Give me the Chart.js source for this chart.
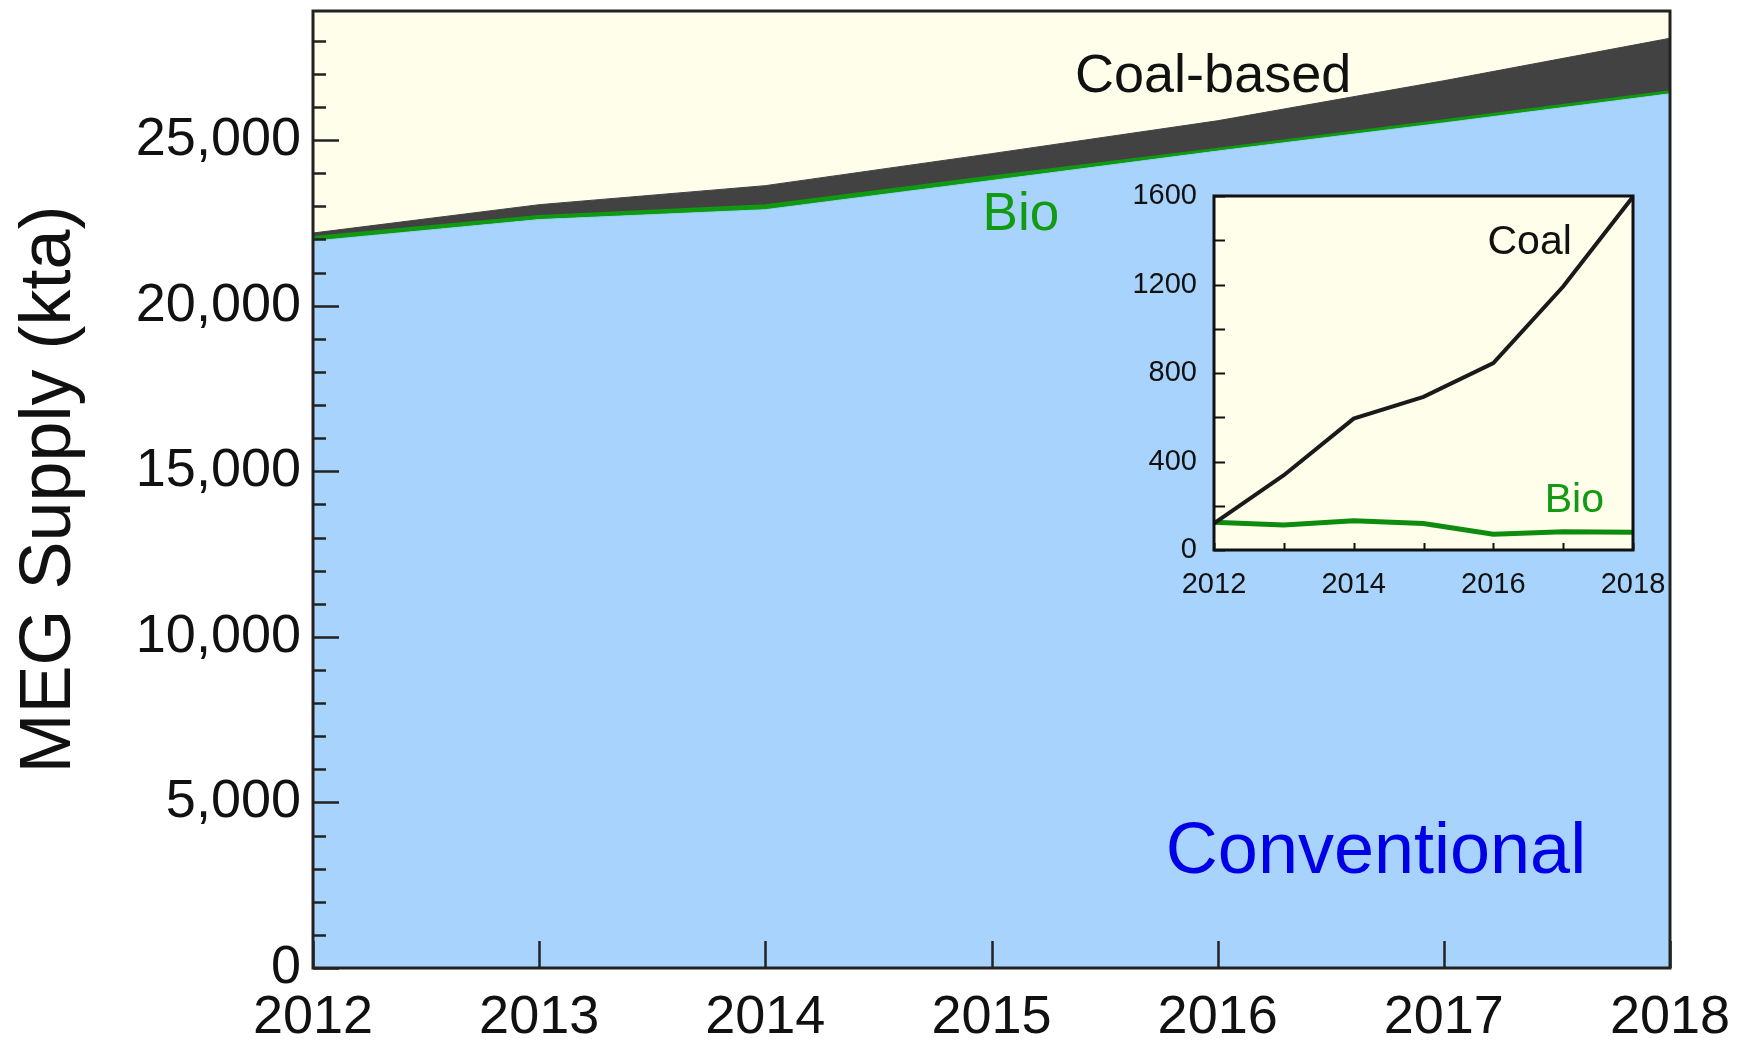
<!DOCTYPE html>
<html><head><meta charset="utf-8">
<script src="https://cdn.jsdelivr.net/npm/chart.js@4.4.1/dist/chart.umd.min.js"></script>
<style>
html,body{margin:0;padding:0;background:#fff;}
#wrap{position:relative;width:1749px;height:1044px;overflow:hidden;}
#main{position:absolute;left:0;top:0;}
#inset{position:absolute;left:1100px;top:170px;}
</style></head><body>
<div id="wrap"><canvas id="main" width="1749" height="1044"></canvas><canvas id="inset" width="600" height="450"></canvas></div>
<script>
// ---- data ----
const years = ['2012', '2013', '2014', '2015', '2016', '2017', '2018'];
const conventional = [21950, 22600, 22900, 23780, 24670, 25520, 26400];
const bio = [125, 113, 132, 120, 71, 83, 80];
const coal = [120, 338, 594, 692, 845, 1191, 1597];
const mainYTicks = [0, 5000, 10000, 15000, 20000, 25000];
const mainYMinor = [1000, 2000, 3000, 4000, 6000, 7000, 8000, 9000, 11000, 12000, 13000, 14000, 16000, 17000, 18000, 19000, 21000, 22000, 23000, 24000, 26000, 27000, 28000];
const insetYTicks = [0, 400, 800, 1200, 1600];
const insetYMinor = [200, 600, 1000, 1400];
const insetXLabels = ['2012', '', '2014', '', '2016', '', '2018'];

const FONT = '"Liberation Sans", Arial, sans-serif';
const firstYear = Number(years[0]);

const frameTicks = {
  id: 'frameTicks',
  beforeDraw(chart, args, o) {
    const a = chart.chartArea, c = chart.ctx;
    c.save(); c.fillStyle = o.bg; c.fillRect(a.left, a.top, a.right - a.left, a.bottom - a.top); c.restore();
  },
  afterDatasetsDraw(chart, args, o) {
    const a = chart.chartArea, c = chart.ctx, ys = chart.scales.y, xs = chart.scales.x;
    c.save();
    c.strokeStyle = o.tickColor; c.lineWidth = o.tickWidth; c.lineCap = 'butt';
    const hline = (v, len) => { const p = Math.round(ys.getPixelForValue(v)) + 0.5; c.beginPath(); c.moveTo(a.left, p); c.lineTo(a.left + len, p); c.stroke(); };
    o.yMajor.forEach(v => hline(v, o.yMajorLen));
    o.yMinor.forEach(v => hline(v, o.yMinorLen));
    years.forEach((y, i) => { const p = Math.round(xs.getPixelForValue(i)) + 0.5; c.beginPath(); c.moveTo(p, a.bottom); c.lineTo(p, a.bottom - o.xLen); c.stroke(); });
    c.strokeStyle = o.frameColor; c.lineWidth = o.frameWidth;
    c.strokeRect(a.left, a.top, a.right - a.left, a.bottom - a.top);
    o.labels.forEach(l => {
      c.font = l.font; c.fillStyle = l.color; c.textAlign = 'center'; c.textBaseline = 'middle';
      c.fillText(l.text, xs.getPixelForValue(l.year - firstYear), ys.getPixelForValue(l.value));
    });
    c.restore();
  }
};

function noPadX(h) { return s => { s.height = h; s.paddingLeft = 0; s.paddingRight = 0; }; }
function noPadY(w) { return s => { s.width = w; s.paddingTop = 0; s.paddingBottom = 0; }; }

new Chart(document.getElementById('main'), {
  type: 'line',
  data: {
    labels: years,
    datasets: [
      { label: 'Conventional', data: conventional, fill: 'origin', backgroundColor: '#a8d3fc', borderColor: '#8fd0f0', borderWidth: 1, pointRadius: 0, tension: 0 },
      { label: 'Bio', data: bio, fill: '-1', backgroundColor: '#119a11', borderColor: '#119a11', borderWidth: 2, pointRadius: 0, tension: 0 },
      { label: 'Coal-based', data: coal, fill: '-1', backgroundColor: '#424242', borderColor: '#424242', borderWidth: 1, pointRadius: 0, tension: 0 }
    ]
  },
  options: {
    responsive: false, animation: false, devicePixelRatio: 1,
    layout: { padding: { left: 0, right: 79, top: 11, bottom: 0 } },
    plugins: {
      legend: { display: false }, tooltip: { enabled: false },
      frameTicks: {
        bg: '#fefeea', tickColor: '#222', tickWidth: 2.5, frameColor: '#222', frameWidth: 3,
        yMajor: mainYTicks, yMinor: mainYMinor, yMajorLen: 26, yMinorLen: 13, xLen: 27,
        labels: [
          { text: 'Coal-based', year: 2015.98, value: 26900, color: '#111', font: '54px ' + FONT },
          { text: 'Bio', year: 2015.13, value: 22730, color: '#129a12', font: '53px ' + FONT },
          { text: 'Conventional', year: 2016.70, value: 3480, color: '#0000e6', font: '72px ' + FONT }
        ]
      }
    },
    scales: {
      x: {
        type: 'category', offset: false,
        grid: { display: false, drawTicks: false }, border: { display: false },
        ticks: { color: '#111', font: { family: FONT, size: 54 }, padding: 18, maxRotation: 0, autoSkip: false },
        afterFit: noPadX(76)
      },
      y: {
        stacked: true, min: 0, max: 28900,
        grid: { display: false, drawTicks: false }, border: { display: false },
        afterBuildTicks(s) { s.ticks = mainYTicks.map(v => ({ value: v })); },
        ticks: { color: '#111', font: { family: FONT, size: 54 }, padding: 12,
          callback: v => v.toLocaleString('en-US') },
        title: { display: true, text: 'MEG Supply (kta)', color: '#111', font: { family: FONT, size: 72 }, padding: { top: 7, bottom: 0 } },
        afterFit: noPadY(313)
      }
    }
  },
  plugins: [frameTicks]
});

new Chart(document.getElementById('inset'), {
  type: 'line',
  data: {
    labels: years,
    datasets: [
      { label: 'Coal', data: coal, borderColor: '#1a1a1a', borderWidth: 4, pointRadius: 0, tension: 0, fill: false },
      { label: 'Bio', data: bio, borderColor: '#0e8c0e', borderWidth: 5, pointRadius: 0, tension: 0, fill: false }
    ]
  },
  options: {
    responsive: false, animation: false, devicePixelRatio: 1,
    layout: { padding: { left: 0, right: 67, top: 26, bottom: 0 } },
    plugins: {
      legend: { display: false }, tooltip: { enabled: false },
      frameTicks: {
        bg: '#fefeea', tickColor: '#111', tickWidth: 2, frameColor: '#111', frameWidth: 3,
        yMajor: insetYTicks, yMinor: insetYMinor, yMajorLen: 11, yMinorLen: 11, xLen: 7,
        labels: [
          { text: 'Coal', year: 2016.52, value: 1390, color: '#111', font: '41px ' + FONT },
          { text: 'Bio', year: 2017.16, value: 222, color: '#129a12', font: '41px ' + FONT }
        ]
      }
    },
    scales: {
      x: {
        type: 'category', offset: false,
        grid: { display: false, drawTicks: false }, border: { display: false },
        ticks: { color: '#111', font: { family: FONT, size: 29 }, padding: 18, maxRotation: 0, autoSkip: false,
          callback: (v, i) => insetXLabels[i] },
        afterFit: noPadX(70)
      },
      y: {
        min: 0, max: 1600,
        grid: { display: false, drawTicks: false }, border: { display: false },
        afterBuildTicks(s) { s.ticks = insetYTicks.map(v => ({ value: v })); },
        ticks: { color: '#111', font: { family: FONT, size: 29 }, padding: 17, callback: v => String(v) },
        afterFit: noPadY(114)
      }
    }
  },
  plugins: [frameTicks]
});
</script>
</body></html>
